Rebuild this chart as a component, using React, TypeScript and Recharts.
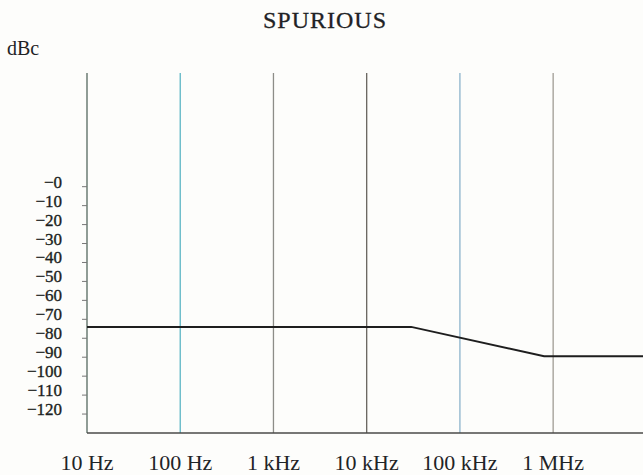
import React from "react";
import { LineChart, Line, XAxis, YAxis, ReferenceLine } from "recharts";

const frequencies = [10, 30000, 800000, 9200000];
const spuriousDbc = [-74, -74, -89.5, -89.5];

const freqTicks = [10, 100, 1000, 10000, 100000, 1000000];
const freqTickLabels = ["10 Hz", "100 Hz", "1 kHz", "10 kHz", "100 kHz", "1 MHz"];
const gridColors = ["#56695f", "#5db6c4", "#8d8d88", "#67645e", "#8cb3cc", "#a09c94"];

const dbcTicks = [0, -10, -20, -30, -40, -50, -60, -70, -80, -90, -100, -110, -120];
const dbcTickLabels = ["−0", "−10", "−20", "−30", "−40", "−50", "−60", "−70", "−80", "−90", "−100", "−110", "−120"];

const data = frequencies.map((f, i) => ({ f, v: spuriousDbc[i] }));

const FONT = "'Liberation Serif', 'Times New Roman', serif";

const XTick = (props: any) => {
  const { x, y, payload } = props;
  const idx = freqTicks.indexOf(payload.value);
  return (
    <text x={x} y={y} dy="0.71em" textAnchor="middle" fontFamily={FONT} fontSize={22} fill="#1f2427">
      {freqTickLabels[idx]}
    </text>
  );
};

const YTick = (props: any) => {
  const { x, y, payload } = props;
  const idx = dbcTicks.indexOf(payload.value);
  return (
    <text x={x} y={y} dy={1} textAnchor="end" fontFamily={FONT} fontSize={17} fill="#1c1f21" stroke="#1c1f21" strokeWidth={0.35}>
      {dbcTickLabels[idx]}
    </text>
  );
};

export default function App() {
  return (
    <div style={{ position: "absolute", left: 0, top: 0, width: 643, height: 475, background: "#fdfdfb", overflow: "hidden" }}>
      <LineChart width={643} height={475} data={data} margin={{ top: 73, right: 0, bottom: 0, left: 0 }}>
        <XAxis
          dataKey="f"
          type="number"
          scale="log"
          domain={[10, 9200000]}
          ticks={freqTicks}
          interval={0}
          allowDataOverflow
          height={42}
          tickLine={false}
          tickSize={0}
          tickMargin={21}
          axisLine={{ stroke: "#4a4a48", strokeWidth: 1.5 }}
          tick={<XTick />}
        />
        <YAxis
          type="number"
          domain={[-130, 60]}
          ticks={dbcTicks}
          interval={0}
          allowDataOverflow
          width={87}
          axisLine={false}
          tickLine={{ stroke: "#777", strokeWidth: 1 }}
          tickSize={5}
          tickMargin={20}
          tick={<YTick />}
        />
        {freqTicks.map((f, i) => (
          <ReferenceLine key={f} x={f} stroke={gridColors[i]} strokeWidth={1.3} ifOverflow="visible" />
        ))}
        <Line
          type="linear"
          dataKey="v"
          stroke="#1e1e1e"
          strokeWidth={2}
          dot={false}
          isAnimationActive={false}
        />
      </LineChart>
      <svg width={643} height={475} style={{ position: "absolute", left: 0, top: 0, pointerEvents: "none" }}>
        <text x={325} y={28} textAnchor="middle" fontFamily={FONT} fontSize={24} letterSpacing={1} fill="#1f2325" stroke="#1f2325" strokeWidth={0.3}>
          SPURIOUS
        </text>
        <text x={7} y={55} fontFamily={FONT} fontSize={20} fill="#1f2325">
          dBc
        </text>
      </svg>
    </div>
  );
}
